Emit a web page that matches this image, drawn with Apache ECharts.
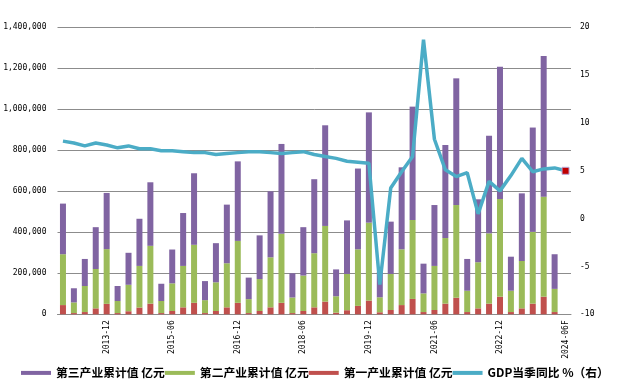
<!DOCTYPE html>
<html><head><meta charset="utf-8">
<script src="https://cdn.jsdelivr.net/npm/echarts@6/dist/echarts.min.js"></script>
<style>html,body{margin:0;padding:0;background:#fff}#c{width:617px;height:392px}</style>
</head><body><div id="c"></div>
<script>
const categories = ['2012-12',
 '2013-03','2013-06','2013-09','2013-12',
 '2014-03','2014-06','2014-09','2014-12',
 '2015-03','2015-06','2015-09','2015-12',
 '2016-03','2016-06','2016-09','2016-12',
 '2017-03','2017-06','2017-09','2017-12',
 '2018-03','2018-06','2018-09','2018-12',
 '2019-03','2019-06','2019-09','2019-12',
 '2020-03','2020-06','2020-09','2020-12',
 '2021-03','2021-06','2021-09','2021-12',
 '2022-03','2022-06','2022-09','2022-12',
 '2023-03','2023-06','2023-09','2023-12',
 '2024-03','2024-06F'];
// 亿元 (cumulative)
const primary = [45000,
 6000,11000,29000,51000,
 6000,15000,33000,52000,
 6000,16000,34000,56000,
 6000,16000,34000,56000,
 6000,16000,34000,56000,
 6000,16000,34000,62000,
 8000,20000,41000,67000,
 10000,21000,45000,75000,
 11000,21000,52000,81000,
 11000,29000,52000,86000,
 11000,29000,52000,86000,
 11000,null];
const secondary = [248000,
 52000,127000,192000,267000,
 59000,129000,203000,282000,
 59000,135000,202000,283000,
 63000,140000,215000,302000,
 68000,156000,244000,337000,
 76000,173000,264000,369000,
 80000,177000,276000,380000,
 73000,176000,272000,385000,
 91000,215000,320000,452000,
 104000,225000,343000,477000,
 104000,231000,350000,488000,
 113000,null];
const tertiary = [247000,
 69000,132000,204000,274000,
 73000,156000,230000,310000,
 84000,165000,258000,349000,
 93000,191000,286000,388000,
 105000,213000,322000,438000,
 118000,236000,361000,491000,
 131000,261000,394000,538000,
 123000,255000,400000,553000,
 145000,297000,454000,618000,
 155000,307000,476000,645000,
 166000,330000,509000,686000,
 169000,null];
// GDP 当季同比 %
const gdpYoY = [8.1,
 7.9,7.6,7.9,7.7,
 7.4,7.6,7.3,7.3,
 7.1,7.1,7.0,6.9,
 6.9,6.7,6.8,6.9,
 7.0,7.0,6.9,6.8,
 6.9,7.0,6.7,6.5,
 6.3,6.0,5.9,5.8,
 -6.9,3.2,4.9,6.5,
 18.7,8.3,5.1,4.4,
 4.8,0.5,3.9,2.9,
 4.5,6.3,4.9,5.2,
 5.3,5.0];
const names = ['第三产业累计值 亿元','第二产业累计值 亿元','第一产业累计值 亿元','GDP当季同比 %（右）'];

const axisFont = {fontFamily:'DejaVu Sans Mono', fontSize:8, color:'#000'};
const lineData = gdpYoY.map((v,i)=> i===gdpYoY.length-1
  ? {value:v, symbol:'rect', symbolSize:7, itemStyle:{color:'#c00000', borderColor:'#b8a8d8', borderWidth:1}}
  : v);

const chart = echarts.init(document.getElementById('c'), null, {renderer:'canvas'});
chart.setOption({
  animation:false,
  backgroundColor:'#fff',
  grid:{left:57.5, right:46, top:27.3, bottom:77.7, containLabel:false},
  legend:{
    data:names, left:16, top:362, width:640, icon:'rect', itemWidth:30, itemHeight:4, itemGap:0,
    textStyle:{fontFamily:'Noto Sans CJK SC', fontSize:11.8, fontWeight:'bold', color:'#000'}
  },
  xAxis:{
    type:'category', data:categories, boundaryGap:true,
    axisLine:{show:true, lineStyle:{color:'#8c8c8c', width:1}},
    axisTick:{show:false},
    axisLabel:Object.assign({rotate:90, margin:6, interval:(i)=> i%6===4}, axisFont)
  },
  yAxis:[{
    type:'value', min:0, max:1400000, interval:200000,
    axisLine:{show:false}, axisTick:{show:false},
    axisLabel:Object.assign({margin:11, formatter:(v)=>v.toLocaleString('en-US')}, axisFont),
    splitLine:{show:true, lineStyle:{color:'#8c8c8c', width:1}}
  },{
    type:'value', min:-10, max:20, interval:5, position:'right',
    axisLine:{show:false}, axisTick:{show:false},
    axisLabel:Object.assign({margin:9}, axisFont),
    splitLine:{show:false}
  }],
  series:[
    {name:names[2], type:'bar', stack:'gdp', data:primary, barWidth:6, itemStyle:{color:'#c0504d'}},
    {name:names[1], type:'bar', stack:'gdp', data:secondary, barWidth:6, itemStyle:{color:'#9bbb59'}},
    {name:names[0], type:'bar', stack:'gdp', data:tertiary, barWidth:6, itemStyle:{color:'#8064a2'}},
    {name:names[3], type:'line', yAxisIndex:1, data:lineData, symbol:'none', showAllSymbol:true,
     itemStyle:{color:'#4bacc6'}, lineStyle:{color:'#4bacc6', width:3.5}, z:5}
  ]
});
</script></body></html>
